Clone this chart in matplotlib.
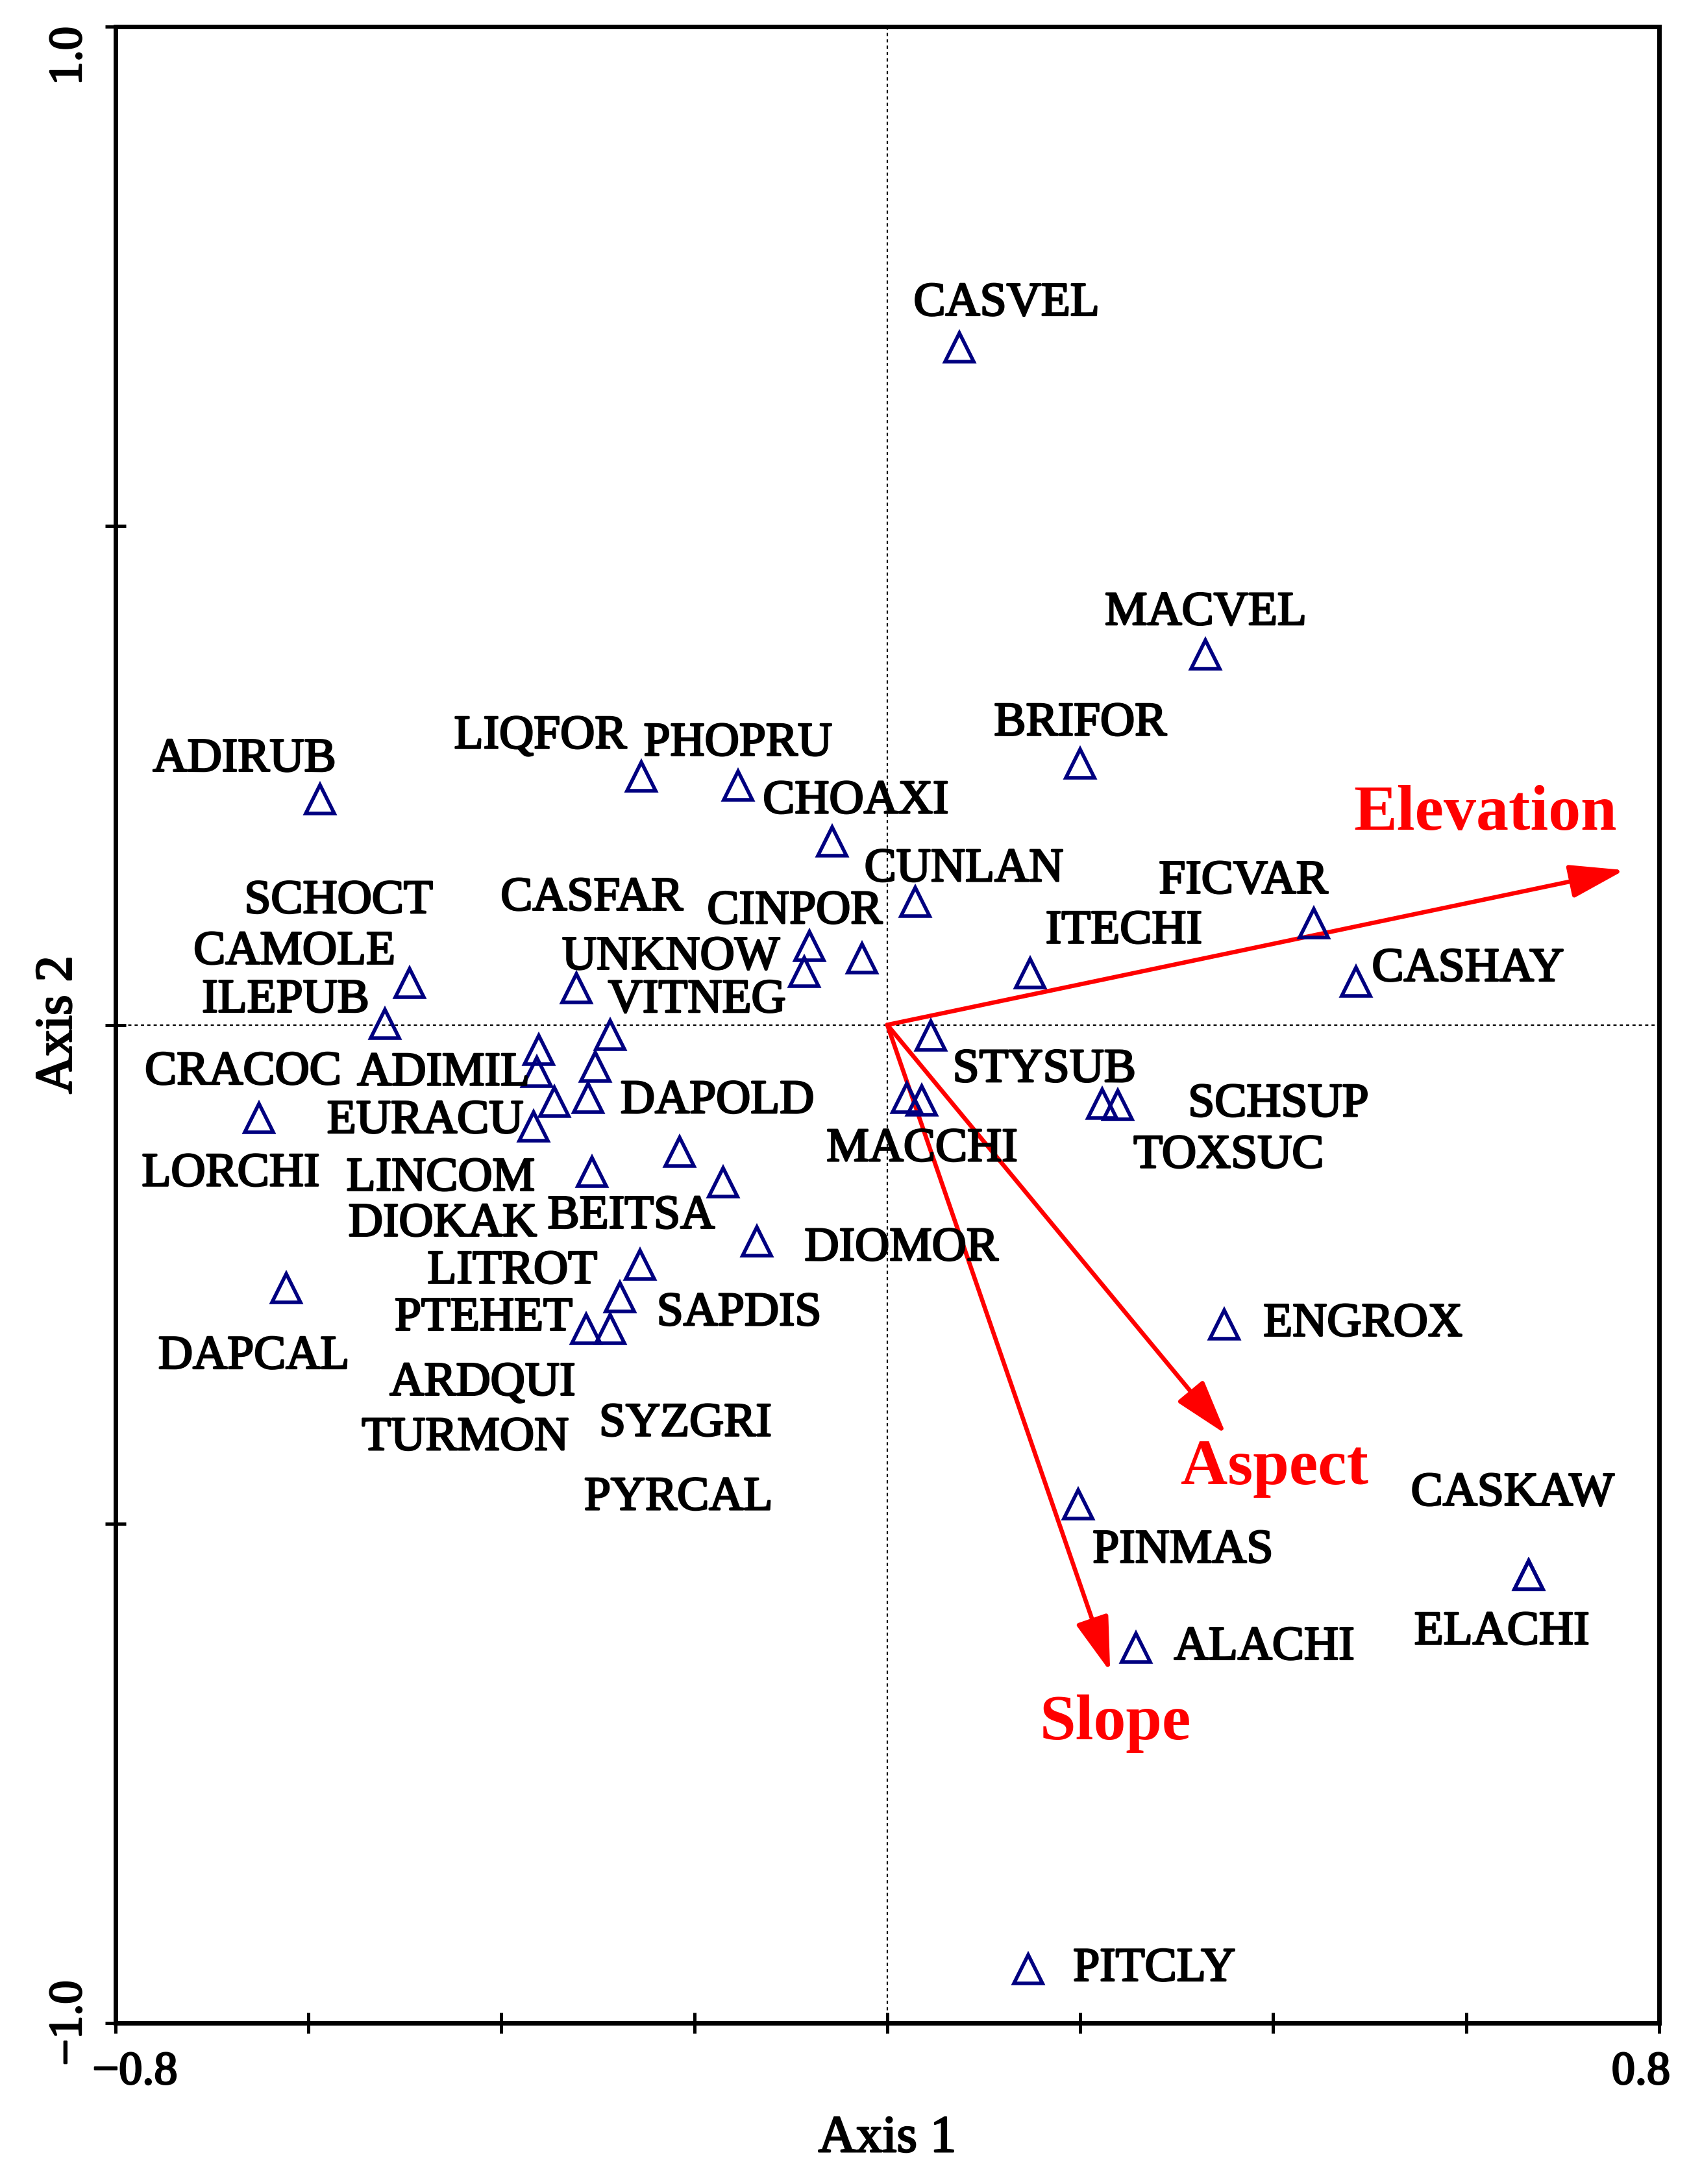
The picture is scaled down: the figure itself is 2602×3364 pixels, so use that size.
import numpy as np
import matplotlib.pyplot as plt
import matplotlib.patheffects as pe
import matplotlib.transforms as mtransforms

plt.rcParams['font.family'] = ['Liberation Serif', 'DejaVu Serif']

#%% Data: species scores on the first two ordination axes
species = ['CASVEL', 'MACVEL', 'BRIFOR', 'ADIRUB', 'LIQFOR', 'PHOPRU', 'CHOAXI',
           'CUNLAN', 'FICVAR', 'CASHAY', 'ITECHI', 'CINPOR', 'UNKNOW', 'CASFAR',
           'SCHOCT', 'CAMOLE', 'ILEPUB', 'VITNEG', 'LORCHI', 'ADIMIL', 'TURMON',
           'DIOKAK', 'PYRCAL', 'EURACU', 'CRACOC', 'STYSUB', 'DAPOLD', 'MACCHI',
           'TOXSUC', 'SCHSUP', 'LINCOM', 'BEITSA', 'SYZGRI', 'DIOMOR', 'DAPCAL',
           'LITROT', 'SAPDIS', 'PTEHET', 'ARDQUI', 'ENGROX', 'PINMAS', 'CASKAW',
           'ELACHI', 'ALACHI', 'PITCLY']
axis1 = [0.075, 0.330, 0.200, -0.588, -0.255, -0.155, -0.057,
         0.029, 0.442, 0.486, 0.148, -0.081, -0.086, -0.026,
         -0.322, -0.495, -0.521, -0.287, -0.361, -0.363, -0.303,
         -0.345, -0.310, -0.367, -0.651, 0.045, 0.020, 0.036,
         0.223, 0.239, -0.306, -0.215, -0.170, -0.135, -0.623,
         -0.256, -0.277, -0.312, -0.287, 0.349, 0.198, 0.665,
         0.665, 0.258, 0.146]
axis2 = [0.679, 0.371, 0.262, 0.226, 0.249, 0.240, 0.184,
         0.123, 0.102, 0.043, 0.052, 0.079, 0.053, 0.067,
         0.037, 0.042, 0.001, -0.010, -0.025, -0.047, -0.042,
         -0.077, -0.073, -0.102, -0.093, -0.011, -0.073, -0.076,
         -0.079, -0.080, -0.147, -0.127, -0.158, -0.217, -0.264,
         -0.240, -0.273, -0.305, -0.305, -0.300, -0.480, -0.551,
         -0.551, -0.624, -0.946]

# environmental variables (biplot arrows)
env_vars = ['Elevation', 'Aspect', 'Slope']
env_axis1 = [0.764, 0.351, 0.231]
env_axis2 = [0.155, -0.410, -0.648]

#%% Label placement (offset from the point, in points)
label_offset = {
    'CASVEL': (26, 24), 'MACVEL': (0, 23), 'BRIFOR': (0, 22), 'ADIRUB': (-42, 22),
    'LIQFOR': (-56, 22), 'PHOPRU': (0, 23), 'CHOAXI': (13, 22), 'CUNLAN': (27, 18),
    'FICVAR': (-39, 23), 'CASHAY': (62, 7), 'ITECHI': (52, 23), 'CINPOR': (-8, 19),
    'UNKNOW': (-74, 8), 'CASFAR': (-150, 33), 'SCHOCT': (-132, 48), 'CAMOLE': (-64, 17),
    'ILEPUB': (-55, 13), 'VITNEG': (48, 19), 'LORCHI': (-171, -69), 'ADIMIL': (-52, -1),
    'TURMON': (-72, -206), 'DIOKAK': (-62, -68), 'PYRCAL': (50, -222), 'EURACU': (-60, 3),
    'CRACOC': (-9, 25), 'STYSUB': (63, -19), 'DAPOLD': (-105, -2), 'MACCHI': (0, -27),
    'TOXSUC': (70, -29), 'SCHSUP': (89, 0), 'LINCOM': (-84, -4), 'BEITSA': (-27, -36),
    'SYZGRI': (-21, -134), 'DIOMOR': (80, -4), 'DAPCAL': (-18, -38), 'LITROT': (-71, -4),
    'SAPDIS': (66, -9), 'PTEHET': (-57, 6), 'ARDQUI': (-71, -30), 'ENGROX': (77, 0),
    'PINMAS': (58, -26), 'CASKAW': (-9, 45), 'ELACHI': (-15, -32), 'ALACHI': (71, 0),
    'PITCLY': (70, 0),
}
env_offset = {'Elevation': (-77, 31), 'Aspect': (27, -19), 'Slope': (3, -29)}

# slightly heavier strokes for the black text, like the original print
heavy = [pe.withStroke(linewidth=1.0, foreground='black')]

#%% Plot
fig = plt.figure(figsize=(13.01, 16.82), dpi=200)
ax = fig.add_axes([0.0684, 0.0737, 0.9139, 0.9141])
ax.set_xlim(-0.8, 0.8)
ax.set_ylim(-1.0, 1.0)

ax.axhline(0, color='black', lw=0.8, ls=(0, (2.2, 2.2)), zorder=1)
ax.axvline(0, color='black', lw=0.8, ls=(0, (2.2, 2.2)), zorder=1)

ax.plot(axis1, axis2, ls='none', marker='^', ms=16, mfc='none',
        mec='#000080', mew=2.0, zorder=3)

for name, x, y in zip(species, axis1, axis2):
    ax.annotate(name, (x, y), xytext=label_offset[name], textcoords='offset points',
                ha='center', va='center', fontsize=26.5, color='black', zorder=4,
                path_effects=heavy)

for name, x, y in zip(env_vars, env_axis1, env_axis2):
    ax.annotate('', xy=(x, y), xytext=(0, 0),
                arrowprops=dict(arrowstyle='-|>,head_length=1.3,head_width=0.4',
                                mutation_scale=20, color='red', lw=2.4,
                                shrinkA=0, shrinkB=0), zorder=2)
    ax.annotate(name, (x, y), xytext=env_offset[name], textcoords='offset points',
                ha='center', va='center', fontsize=36, fontweight='bold',
                color='red', zorder=4)

for sp in ax.spines.values():
    sp.set_linewidth(2.5)

ax.set_xticks(np.arange(-0.8, 0.81, 0.2))
ax.set_xticklabels(['\u22120.8', '', '', '', '', '', '', '', '0.8'])
ax.set_yticks([-1.0, -0.5, 0.0, 0.5, 1.0])
ax.set_yticklabels(['\u22121.0', '', '', '', '1.0'], rotation=90, va='center')
ax.get_yticklabels()[-1].set_va('top')
ax.tick_params(direction='inout', length=11.5, width=1.8, labelsize=26, pad=10)
ax.tick_params(axis='y', pad=8)
for lab in ax.get_xticklabels() + ax.get_yticklabels():
    lab.set_path_effects(heavy)

# end labels of x axis sit a little inside the ticks
xlabs = ax.get_xticklabels()
xlabs[0].set_transform(xlabs[0].get_transform() +
                       mtransforms.ScaledTranslation(0.15, 0, fig.dpi_scale_trans))
xlabs[-1].set_transform(xlabs[-1].get_transform() +
                        mtransforms.ScaledTranslation(-0.14, 0, fig.dpi_scale_trans))

ax.set_xlabel('Axis 1', fontsize=29, labelpad=12, path_effects=heavy)
ax.set_ylabel('Axis 2', fontsize=29, va='center', path_effects=heavy)
ax.yaxis.set_label_coords(-0.037, 0.5)

fig.savefig('out.png', dpi=200)
